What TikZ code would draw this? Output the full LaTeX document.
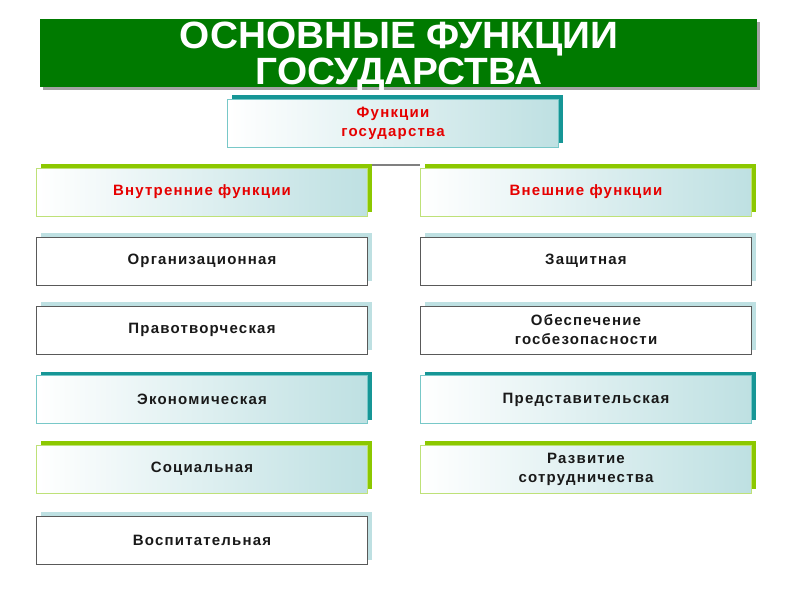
\documentclass[tikz,border=0pt]{standalone}
\usepackage{fontspec}
\setmainfont{Liberation Sans}
\newfontfamily\boxfont[LetterSpace=8]{Liberation Sans}
\newfontfamily\titlefont[FakeStretch=1.02]{Liberation Sans}
\usetikzlibrary{shadows}
\definecolor{bannergreen}{RGB}{0,122,0}
\definecolor{tealdark}{RGB}{22,150,150}
\definecolor{teallight}{RGB}{190,224,226}
\definecolor{tealborder}{RGB}{120,200,200}
\definecolor{lime}{RGB}{140,200,0}
\definecolor{limeborder}{RGB}{190,225,120}
\definecolor{txt}{RGB}{25,25,25}
\definecolor{redtxt}{RGB}{230,0,0}
\tikzset{
  base/.style={rectangle, minimum width=331pt, minimum height=48pt, inner sep=0pt,
    align=center, font=\boxfont\bfseries\fontsize{15}{19}\selectfont, text=txt},
  whitebox/.style={base, fill=white, draw=black!65, line width=1pt,
    drop shadow={shadow xshift=4pt, shadow yshift=4pt, fill=teallight, opacity=1}},
  tealbox/.style={base, left color=white, right color=teallight, draw=tealborder, line width=1pt,
    drop shadow={shadow xshift=4pt, shadow yshift=4pt, fill=tealdark, opacity=1}},
  limebox/.style={base, left color=white, right color=teallight, draw=limeborder, line width=1pt,
    drop shadow={shadow xshift=4pt, shadow yshift=4pt, fill=lime, opacity=1}},
  titletext/.style={anchor=base, inner sep=0pt, text=white,
    font=\titlefont\bfseries\fontsize{38}{38}\selectfont},
}
\begin{document}
\begin{tikzpicture}[x=1pt,y=-1pt]
\useasboundingbox (0,0) rectangle (800,600);
% banner
\node[rectangle, minimum width=717pt, minimum height=68pt, fill=bannergreen, inner sep=0pt,
  drop shadow={shadow xshift=3pt, shadow yshift=-3pt, fill=black!45, opacity=0.8}] (banner) at (398.5,53) {};
\node[titletext] (t1) at (399,48) {ОСНОВНЫЕ ФУНКЦИИ};
\node[titletext] (t2) at (399,84) {ГОСУДАРСТВА};
% top
\node[tealbox, text=redtxt] (top) at (393,123) {Функции\\государства};
% headings
\node[limebox, text=redtxt] (inner) at (202,192) {Внутренние функции};
\node[limebox, text=redtxt] (outer) at (586,192) {Внешние функции};
\draw[black!50, line width=2pt] ([shift={(4,-3)}]inner.north east) -- ([shift={(0,-3)}]outer.north west);
% left column
\node[whitebox] (l1) at (202,261) {Организационная};
\node[whitebox] (l2) at (202,330) {Правотворческая};
\node[tealbox] (l3) at (202,399.5) {Экономическая};
\node[limebox] (l4) at (202,469) {Социальная};
\node[whitebox] (l5) at (202,540) {Воспитательная};
% right column
\node[whitebox] (r1) at (586,261) {Защитная};
\node[whitebox] (r2) at (586,330) {Обеспечение\\госбезопасности};
\node[tealbox] (r3) at (586,399.5) {Представительская};
\node[limebox] (r4) at (586,469) {Развитие\\сотрудничества};
\end{tikzpicture}
\end{document}
